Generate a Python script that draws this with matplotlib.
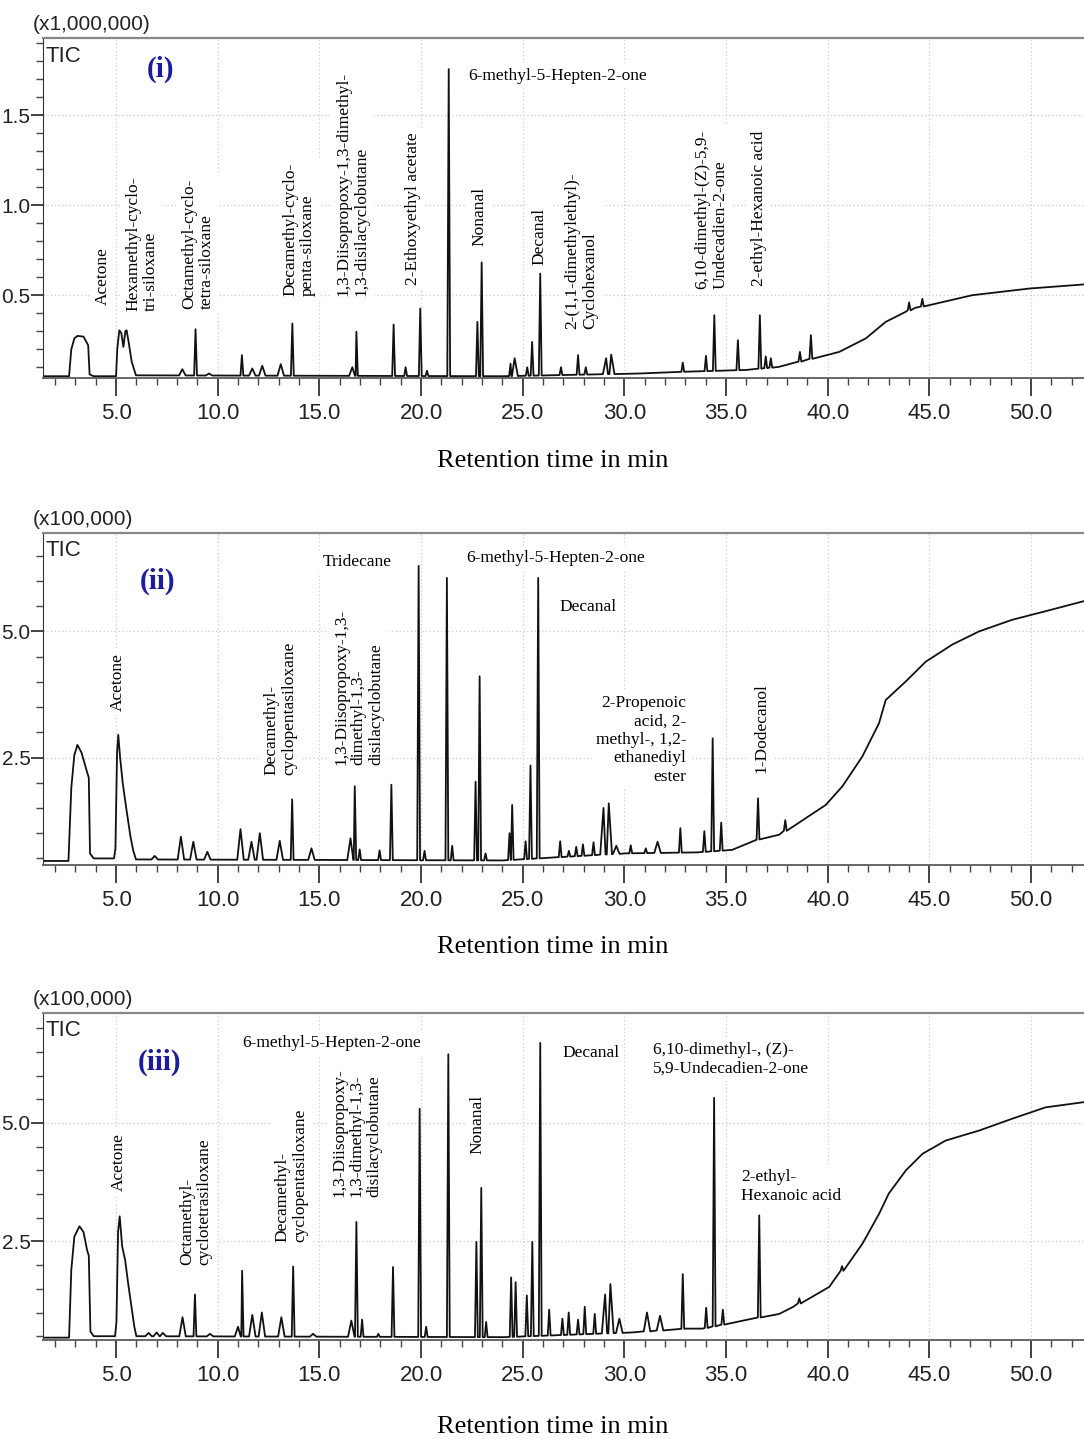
import numpy as np
import matplotlib
matplotlib.use('Agg')
import matplotlib.pyplot as plt
from matplotlib.ticker import MultipleLocator, FixedLocator, FormatStrFormatter

serif = ['Liberation Serif', 'DejaVu Serif']
narrow = ['Liberation Sans', 'DejaVu Sans']
plt.rcParams['font.family'] = narrow

#%% data (time in min, intensity in axis units)
# (i)  x1,000,000
base_t_1 = [1.4, 2.69, 2.8, 2.95, 3.1, 3.4, 3.63, 3.7, 3.9, 5.0, 5.06, 5.16, 5.26, 5.36, 5.46,
            5.52, 5.62, 5.77, 5.98, 24.0, 30.7, 33.0, 36.0, 37.6, 38.9, 40.56, 41.87, 42.85,
            43.83, 44.3, 45.0, 47.1, 49.9, 52.6]
base_v_1 = [0.05, 0.05, 0.2, 0.26, 0.274, 0.27, 0.222, 0.06, 0.05, 0.05, 0.2, 0.305, 0.29, 0.213,
            0.3, 0.305, 0.24, 0.13, 0.055, 0.05, 0.065, 0.075, 0.085, 0.102, 0.139, 0.185, 0.26,
            0.352, 0.408, 0.43, 0.445, 0.5, 0.537, 0.56]
spike_t_1 = [8.91, 11.19, 13.67, 16.82, 18.65, 19.24, 19.96, 20.29, 21.36, 22.77, 22.98, 24.40,
             25.22, 25.46, 25.86, 26.88, 27.72, 28.1, 32.87, 34.01, 34.42, 35.58, 36.66, 36.95,
             37.2, 38.63, 39.17, 44.0, 44.65]
spike_v_1 = [0.311, 0.167, 0.343, 0.297, 0.337, 0.10, 0.426, 0.08, 1.756, 0.352, 0.682, 0.12,
             0.10, 0.24, 0.62, 0.10, 0.167, 0.1, 0.126, 0.163, 0.389, 0.25, 0.389, 0.16,
             0.15, 0.185, 0.278, 0.46, 0.48]
bump_t_1 = [8.26, 9.57, 11.7, 12.19, 13.1, 16.62, 24.6, 29.1, 29.35]
bump_v_1 = [0.089, 0.065, 0.093, 0.108, 0.117, 0.10, 0.15, 0.15, 0.17]

# (ii)  x100,000
base_t_2 = [1.4, 2.66, 2.8, 2.95, 3.1, 3.3, 3.59, 3.66, 3.72, 3.9, 4.9, 4.97, 5.05, 5.11, 5.2,
            5.33, 5.5, 5.71, 5.85, 5.98, 24.0, 30.0, 33.6, 35.3, 36.5, 37.61, 39.9, 40.72,
            41.70, 42.52, 42.85, 43.84, 44.82, 46.13, 47.44, 49.07, 50.71, 52.6]
base_v_2 = [0.45, 0.45, 1.9, 2.55, 2.75, 2.6, 2.19, 2.1, 0.6, 0.5, 0.5, 0.7, 2.6, 2.95, 2.5,
            1.99, 1.5, 0.93, 0.65, 0.48, 0.46, 0.6, 0.62, 0.67, 0.87, 0.97, 1.56, 1.93,
            2.52, 3.18, 3.64, 4.01, 4.40, 4.74, 5.0, 5.23, 5.40, 5.6]
spike_t_2 = [13.66, 16.74, 16.98, 17.96, 18.54, 19.88, 20.17, 21.27, 21.53, 22.68, 22.88, 23.17,
             24.35, 24.48, 25.14, 25.38, 25.76, 26.84, 27.27, 27.63, 27.96, 28.48, 30.31,
             31.05, 32.75, 33.93, 34.34, 34.76, 36.57, 37.91]
spike_v_2 = [1.67, 1.93, 0.68, 0.66, 1.96, 6.30, 0.65, 6.06, 0.75, 2.02, 4.11, 0.6,
             1.0, 1.56, 0.84, 2.34, 6.06, 0.84, 0.65, 0.73, 0.78, 0.82, 0.76,
             0.7, 1.10, 1.04, 2.88, 1.21, 1.69, 1.26]
bump_t_2 = [6.9, 8.19, 8.80, 9.49, 11.12, 11.66, 12.07, 13.05, 14.61, 16.53, 28.97, 29.23,
            29.6, 31.63]
bump_v_2 = [0.55, 0.93, 0.83, 0.63, 1.08, 0.83, 1.0, 0.85, 0.70, 0.9, 1.50, 1.59,
            0.75, 0.83]

# (iii)  x100,000
base_t_3 = [1.4, 2.69, 2.8, 2.95, 3.2, 3.4, 3.58, 3.66, 3.74, 3.9, 4.95, 5.02, 5.1, 5.18, 5.3,
            5.45, 5.6, 5.78, 5.9, 6.0, 24.1, 30.4, 33.0, 33.85, 36.3, 37.61, 38.3, 40.07,
            40.72, 41.70, 42.52, 43.0, 43.84, 44.66, 45.8, 47.44, 49.07, 50.71, 52.6]
base_v_3 = [0.47, 0.47, 1.9, 2.6, 2.82, 2.7, 2.31, 2.2, 0.6, 0.5, 0.5, 0.8, 2.7, 3.03, 2.4,
            2.1, 1.6, 1.05, 0.7, 0.5, 0.48, 0.58, 0.66, 0.66, 0.87, 0.97, 1.12, 1.54,
            1.89, 2.45, 3.08, 3.51, 4.0, 4.35, 4.63, 4.84, 5.09, 5.33, 5.44]
spike_t_3 = [8.88, 11.2, 13.71, 16.82, 17.1, 17.9, 18.62, 19.93, 20.25, 21.34, 22.72, 22.96,
             23.2, 24.43, 24.65, 25.2, 25.47, 25.86, 26.3, 26.95, 27.26, 27.72, 28.05, 28.54,
             32.87, 34.02, 34.41, 34.84, 36.63, 38.6, 40.7]
spike_v_3 = [1.38, 1.88, 1.97, 2.91, 0.85, 0.55, 1.96, 5.30, 0.7, 6.45, 2.49, 3.63,
             0.8, 1.74, 1.64, 1.36, 2.49, 6.69, 1.06, 0.87, 1.0, 0.85, 1.12, 0.97,
             1.81, 1.1, 5.53, 1.06, 3.05, 1.3, 1.98]
bump_t_3 = [6.6, 7.0, 7.3, 8.27, 9.62, 11.0, 11.7, 12.17, 13.13, 14.69, 16.57, 29.05, 29.31,
            29.75, 31.11, 31.75]
bump_v_3 = [0.57, 0.58, 0.57, 0.9, 0.55, 0.7, 0.95, 1.0, 0.9, 0.55, 0.83, 1.38, 1.6,
            0.87, 1.0, 0.93]


def build_trace(base_t, base_v, spike_t, spike_v, bump_t, bump_v):
    peaks = [(t, v, 0.07) for t, v in zip(spike_t, spike_v)]
    peaks += [(t, v, 0.16) for t, v in zip(bump_t, bump_v)]
    pts = [(t, v) for t, v in zip(base_t, base_v)
           if all(abs(t - p[0]) > p[2] for p in peaks)]
    for t, v, w in peaks:
        foot = np.interp(t, base_t, base_v)
        pts += [(t - w, foot), (t, v), (t + w, foot)]
    pts.sort()
    tt, vv = zip(*pts)
    return np.array(tt), np.array(vv)


def setup_axes(ax, ylim, yticks, yminor, unit, label_y):
    ax.set_xlim(1.41, 52.6)
    ax.set_ylim(*ylim)
    ax.xaxis.set_major_locator(FixedLocator([5, 10, 15, 20, 25, 30, 35, 40, 45, 50]))
    ax.xaxis.set_minor_locator(MultipleLocator(1))
    ax.xaxis.set_major_formatter(FormatStrFormatter('%.1f'))
    ax.yaxis.set_major_locator(FixedLocator(yticks))
    ax.yaxis.set_minor_locator(MultipleLocator(yminor))
    ax.yaxis.set_major_formatter(FormatStrFormatter('%.1f'))
    ax.tick_params(axis='x', which='major', direction='out', length=13, width=1.2, pad=5,
                   labelsize=16, colors='#222222')
    ax.tick_params(axis='x', which='minor', direction='out', length=5, width=1.0, colors='#444444')
    ax.tick_params(axis='y', which='major', direction='out', length=9, width=1.2, pad=0,
                   labelsize=15, colors='#222222')
    ax.tick_params(axis='y', which='minor', direction='out', length=5, width=1.0, colors='#444444')
    ax.grid(True, which='major', color='#cccccc', linestyle=(0, (1, 2)), linewidth=0.9)
    ax.set_axisbelow(True)
    ax.spines['right'].set_visible(False)
    ax.spines['top'].set_color('#888888')
    ax.spines['top'].set_linewidth(1.6)
    ax.spines['left'].set_color('#333333')
    ax.spines['bottom'].set_color('#666666')
    ax.spines['bottom'].set_linewidth(1.4)
    ax.text(-0.0096, 1.041, unit, transform=ax.transAxes, ha='left', va='center',
            fontsize=15, color='#222222', clip_on=False)
    ax.text(0.002, 0.947, 'TIC', transform=ax.transAxes, ha='left', va='center',
            fontsize=16, color='#222222')
    ax.text(0.49, label_y, 'Retention time in min', transform=ax.transAxes, ha='center',
            va='center', fontsize=19, family=serif, clip_on=False)


def vlabel(ax, t, v, s):
    ax.text(t, v, s, rotation=90, ha='center', va='bottom', multialignment='left',
            fontsize=12.5, family=serif, linespacing=1.15,
            bbox=dict(facecolor='white', edgecolor='none', pad=3))


def hlabel(ax, t, v, s, ha='left', va='center', ma='left'):
    ax.text(t, v, s, ha=ha, va=va, multialignment=ma, fontsize=12.5, family=serif,
            linespacing=1.2, bbox=dict(facecolor='white', edgecolor='none', pad=3))


fig = plt.figure(figsize=(10.84, 14.39), dpi=100)
ax1 = fig.add_axes([0.0397, 0.7373, 0.9603, 0.2363])
ax2 = fig.add_axes([0.0397, 0.3989, 0.9603, 0.2307])
ax3 = fig.add_axes([0.0397, 0.0688, 0.9603, 0.2272])

setup_axes(ax1, (0.04, 1.929), [0.5, 1.0, 1.5], 0.1, '(x1,000,000)', -0.244)
setup_axes(ax2, (0.37, 6.95), [2.5, 5.0], 0.5, '(x100,000)', -0.247)
setup_axes(ax3, (0.42, 7.32), [2.5, 5.0], 0.5, '(x100,000)', -0.266)

for ax, data in [(ax1, (base_t_1, base_v_1, spike_t_1, spike_v_1, bump_t_1, bump_v_1)),
                 (ax2, (base_t_2, base_v_2, spike_t_2, spike_v_2, bump_t_2, bump_v_2)),
                 (ax3, (base_t_3, base_v_3, spike_t_3, spike_v_3, bump_t_3, bump_v_3))]:
    tt, vv = build_trace(*data)
    ax.plot(tt, vv, color='#111111', linewidth=1.3, zorder=2)

blue = '#1c1ca0'
# panel (i)
ax1.text(7.21, 1.753, '(i)', ha='center', va='center', color=blue, fontsize=21,
         fontweight='bold', family=serif)
vlabel(ax1, 4.36, 0.448, 'Acetone')
vlabel(ax1, 6.28, 0.414, 'Hexamethyl-cyclo-\ntri-siloxane')
vlabel(ax1, 9.03, 0.424, 'Octamethyl-cyclo-\ntetra-siloxane')
vlabel(ax1, 13.99, 0.498, 'Decamethyl-cyclo-\npenta-siloxane')
vlabel(ax1, 16.64, 0.498, '1,3-Diisopropoxy-1,3-dimethyl-\n1,3-disilacyclobutane')
vlabel(ax1, 19.59, 0.558, '2-Ethoxyethyl acetate')
hlabel(ax1, 22.34, 1.72, '6-methyl-5-Hepten-2-one')
vlabel(ax1, 22.88, 0.776, 'Nonanal')
vlabel(ax1, 25.83, 0.67, 'Decanal')
vlabel(ax1, 27.89, 0.315, '2-(1,1-dimethylethyl)-\nCyclohexanol')
vlabel(ax1, 34.27, 0.537, '6,10-dimethyl-(Z)-5,9-\nUndecadien-2-one')
vlabel(ax1, 36.63, 0.553, '2-ethyl-Hexanoic acid')

# panel (ii)
ax2.text(7.06, 5.99, '(ii)', ha='center', va='center', color=blue, fontsize=21,
         fontweight='bold', family=serif)
vlabel(ax2, 5.1, 3.43, 'Acetone')
vlabel(ax2, 13.1, 2.16, 'Decamethyl-\ncyclopentasiloxane')
vlabel(ax2, 16.94, 2.36, '1,3-Diisopropoxy-1,3-\ndimethyl-1,3-\ndisilacyclobutane')
hlabel(ax2, 15.17, 6.38, 'Tridecane')
hlabel(ax2, 22.24, 6.46, '6-methyl-5-Hepten-2-one')
hlabel(ax2, 26.81, 5.49, 'Decanal')
hlabel(ax2, 33.05, 3.74, '2-Propenoic\nacid, 2-\nmethyl-, 1,2-\nethanediyl\nester',
       ha='right', va='top', ma='right')
vlabel(ax2, 36.73, 2.2, '1-Dodecanol')

# panel (iii)
ax3.text(7.16, 6.28, '(iii)', ha='center', va='center', color=blue, fontsize=21,
         fontweight='bold', family=serif)
vlabel(ax3, 5.15, 3.56, 'Acetone')
vlabel(ax3, 8.93, 2.0, 'Octamethyl-\ncyclotetrasiloxane')
vlabel(ax3, 13.64, 2.49, 'Decamethyl-\ncyclopentasiloxane')
vlabel(ax3, 16.84, 3.43, '1,3-Diisopropoxy-\n1,3-dimethyl-1,3-\ndisilacyclobutane')
hlabel(ax3, 11.19, 6.68, '6-methyl-5-Hepten-2-one')
vlabel(ax3, 22.78, 4.34, 'Nonanal')
hlabel(ax3, 26.95, 6.47, 'Decanal')
hlabel(ax3, 31.42, 6.70, '6,10-dimethyl-, (Z)-\n5,9-Undecadien-2-one', va='top')
hlabel(ax3, 35.75, 4.02, '2-ethyl-\nHexanoic acid', va='top')

fig.savefig('out.png', dpi=100)
